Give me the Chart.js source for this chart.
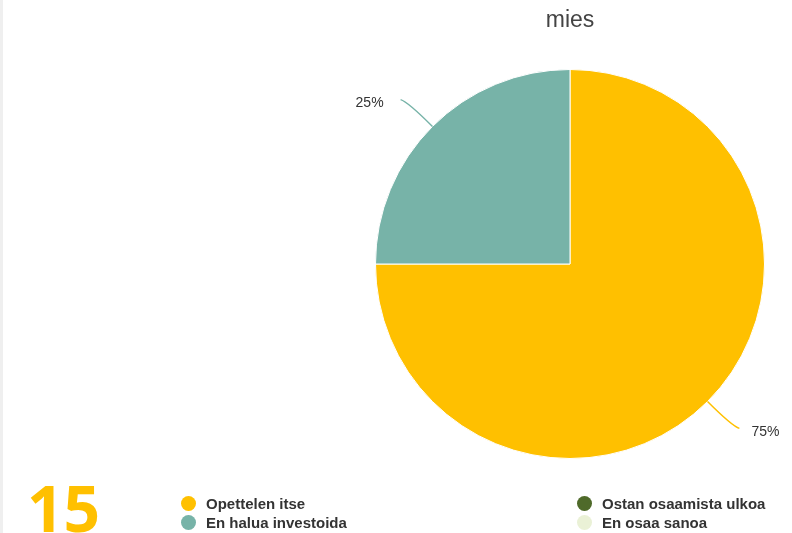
<!DOCTYPE html>
<html>
<head>
<meta charset="utf-8">
<script src="https://cdn.jsdelivr.net/npm/chart.js@4/dist/chart.umd.min.js"></script>
<style>
  body { margin: 0; background: #fff; }
  #wrap { position: relative; width: 792px; height: 533px; overflow: hidden; }
  #strip { position: absolute; left: 0; top: 0; width: 3px; height: 533px; background: #efefef; }
  #big { position: absolute; left: 27px; top: 476px; font: bold 64px/1 "Open Sans", sans-serif; color: #FFC000; }
  #legend { position: absolute; left: 181px; top: 494px; display: grid; grid-template-columns: 396px auto;
            grid-template-rows: 19px 19px; grid-auto-flow: column; font: bold 15px "Liberation Sans", Arial, sans-serif; color: #333; }
  .item { display: flex; align-items: center; }
  .dot { width: 15px; height: 15px; border-radius: 50%; margin-right: 10px; }
</style>
</head>
<body>
<div id="wrap">
  <div id="strip"></div>
  <canvas id="grafico" width="792" height="533"></canvas>
  <div id="big"></div>
  <div id="legend"></div>
</div>
<script>
const tituloGrafico = 'mies';
const numeroGrande = '15';
const categorias = ['Opettelen itse', 'En halua investoida', 'Ostan osaamista ulkoa', 'En osaa sanoa'];
const valores = [75, 25, 0, 0];
const colores = ['#FFC000', '#77B3A8', '#4F6A2A', '#EAF1D6'];

// etiquetas con linea guia
const etiquetas = {
    id: 'etiquetas',
    afterDatasetsDraw(chart) {
        const ctx = chart.ctx;
        const meta = chart.getDatasetMeta(0);
        const total = valores.reduce((a, b) => a + b, 0);
        ctx.save();
        ctx.font = '14px "Liberation Sans", Arial, sans-serif';
        ctx.textBaseline = 'middle';
        meta.data.forEach((arc, i) => {
            if (!valores[i]) return;
            const p = arc.getProps(['x', 'y', 'startAngle', 'endAngle', 'outerRadius'], true);
            const ang = (p.startAngle + p.endAngle) / 2;
            const c = Math.cos(ang), s = Math.sin(ang);
            const x0 = p.x + c * p.outerRadius, y0 = p.y + s * p.outerRadius;
            const cx = p.x + c * (p.outerRadius + 35), cy = p.y + s * (p.outerRadius + 35);
            const dir = c >= 0 ? 1 : -1;
            const x1 = p.x + c * (p.outerRadius + 38) + dir * 5, y1 = p.y + s * (p.outerRadius + 38);
            ctx.strokeStyle = colores[i];
            ctx.lineWidth = 1.5;
            ctx.beginPath();
            ctx.moveTo(x0, y0);
            ctx.quadraticCurveTo(cx, cy, x1, y1);
            ctx.stroke();
            ctx.fillStyle = '#333';
            ctx.textAlign = dir > 0 ? 'left' : 'right';
            ctx.fillText(Math.round(valores[i] / total * 100) + '%', x1 + dir * (dir > 0 ? 12 : 17), y1 + 4);
        });
        ctx.restore();
    }
};

const chart = new Chart(document.getElementById('grafico'), {
    type: 'pie',
    data: {
        labels: categorias,
        datasets: [{
            data: valores,
            backgroundColor: colores,
            borderColor: '#fff',
            borderWidth: 1
        }]
    },
    options: {
        responsive: false,
        animation: false,
        layout: { padding: { left: 375, right: 27, top: 0, bottom: 74 } },
        plugins: {
            legend: { display: false },
            tooltip: { enabled: false },
            title: {
                display: true,
                text: tituloGrafico,
                color: '#444',
                font: { family: '"Liberation Sans", Arial, sans-serif', size: 23, weight: 'normal' },
                padding: { top: 7.2, bottom: 34.2 }
            }
        }
    },
    plugins: [etiquetas]
});

document.getElementById('big').textContent = numeroGrande;
const leyenda = document.getElementById('legend');
categorias.forEach((nombre, i) => {
    const item = document.createElement('div');
    item.className = 'item';
    item.innerHTML = '<span class="dot" style="background:' + colores[i] + '"></span>' + nombre;
    leyenda.appendChild(item);
});
</script>
</body>
</html>
